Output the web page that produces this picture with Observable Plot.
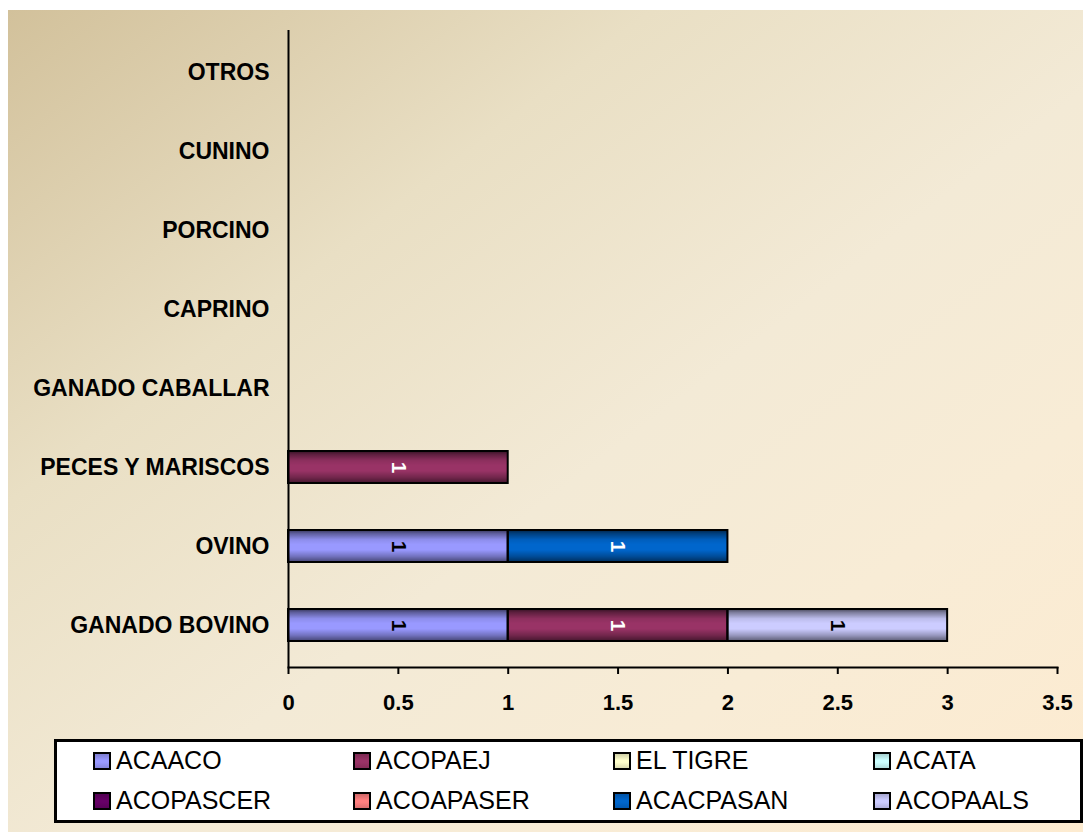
<!DOCTYPE html>
<html>
<head>
<meta charset="utf-8">
<script src="https://cdn.jsdelivr.net/npm/d3@7"></script>
<script src="https://cdn.jsdelivr.net/npm/@observablehq/plot@0.6"></script>
<style>
  html, body { margin: 0; padding: 0; background: #ffffff; }
  #chart {
    position: absolute;
    left: 8px;
    top: 10px;
    width: 1075px;
    height: 822px;
    background: linear-gradient(to bottom right, #d2c19b 0%, #e9dfc4 30%, #f3ead6 55%, #f8ecd6 75%, #fdebd0 100%);
    font-family: "Liberation Sans", Arial, sans-serif;
  }
  #legend {
    position: absolute;
    left: 46px;
    top: 729px;
    width: 1029px;
    height: 84px;
    box-sizing: border-box;
    border: 3px solid #000;
    background: #ffffff;
    display: grid;
    grid-template-columns: repeat(4, 260px);
    grid-auto-rows: 40px;
    padding-left: 36px;
    padding-top: 0;
  }
  #legend .item {
    display: flex;
    align-items: center;
    font-size: 25px;
    color: #000;
    margin-top: -3px;
  }
  #legend .swatch {
    width: 14px;
    height: 14px;
    border: 2px solid #000;
    margin-right: 5px;
    flex: none;
  }
</style>
</head>
<body>
<div id="chart"></div>
<script>
// Livestock categories, listed top to bottom
const categories = ["OTROS", "CUNINO", "PORCINO", "CAPRINO", "GANADO CABALLAR", "PECES Y MARISCOS", "OVINO", "GANADO BOVINO"];

// Associations (stack order) and their fill colours
const seriesNames = ["ACAACO", "ACOPAEJ", "EL TIGRE", "ACATA", "ACOPASCER", "ACOAPASER", "ACACPASAN", "ACOPAALS"];
const seriesColors = ["#9999ff", "#993366", "#ffffcc", "#ccffff", "#660066", "#ff8080", "#0066cc", "#ccccff"];

// Counts per category, in the same order as `categories`
const ACAACO    = [0, 0, 0, 0, 0, 0, 1, 1];
const ACOPAEJ   = [0, 0, 0, 0, 0, 1, 0, 1];
const EL_TIGRE  = [0, 0, 0, 0, 0, 0, 0, 0];
const ACATA     = [0, 0, 0, 0, 0, 0, 0, 0];
const ACOPASCER = [0, 0, 0, 0, 0, 0, 0, 0];
const ACOAPASER = [0, 0, 0, 0, 0, 0, 0, 0];
const ACACPASAN = [0, 0, 0, 0, 0, 0, 1, 0];
const ACOPAALS  = [0, 0, 0, 0, 0, 0, 0, 1];

const xTicks = [0, 0.5, 1, 1.5, 2, 2.5, 3, 3.5];

const seriesValues = [ACAACO, ACOPAEJ, EL_TIGRE, ACATA, ACOPASCER, ACOAPASER, ACACPASAN, ACOPAALS];

const rows = [];
seriesNames.forEach((s, i) => {
  categories.forEach((c, j) => {
    const v = seriesValues[i][j];
    if (v > 0) rows.push({series: s, category: c, value: v, dark: d3.hsl(seriesColors[i]).l < 0.5});
  });
});

const stack = extra => Plot.stackX({x: "value", y: "category", z: "series", ...extra});
const labelStyle = {rotate: 90, fontSize: 21, fontWeight: "bold"};

const svg = Plot.plot({
  width: 1075,
  height: 725,
  marginLeft: 280,
  marginRight: 26,
  marginTop: 20,
  marginBottom: 68,
  style: {
    background: "transparent",
    fontFamily: "'Liberation Sans', Arial, sans-serif",
    fontSize: "22px",
    overflow: "visible"
  },
  x: {domain: [0, 3.5], label: null},
  y: {domain: categories, paddingInner: 0.6, paddingOuter: 0.3, label: null},
  color: {domain: seriesNames, range: seriesColors},
  marks: [
    Plot.barX(rows, stack({fill: "series"})),
    Plot.barX(rows, stack({fill: "url(#barShade)", stroke: "#000", strokeWidth: 2})),
    // value labels: black on light segments, white on dark ones
    Plot.text(rows, stack({...labelStyle, text: d => d.dark ? null : String(d.value), fill: "#000"})),
    Plot.text(rows, stack({...labelStyle, text: d => d.dark ? String(d.value) : null, fill: "#fff"})),
    Plot.ruleX([0], {stroke: "#000", strokeWidth: 2}),
    Plot.frame({anchor: "bottom", stroke: "#000", strokeWidth: 2}),
    Plot.axisX({
      ticks: xTicks,
      tickSize: 7,
      tickPadding: 20,
      tickFormat: d3.format("~g"),
      strokeWidth: 2,
      fontSize: 22,
      fontWeight: "bold",
      label: null
    }),
    Plot.axisY({
      tickSize: 0,
      tickPadding: 19,
      fontSize: 23,
      fontWeight: "bold",
      label: null
    })
  ]
});

// Vertical shading that gives the bars their rounded, glossy look
const grad = d3.select(svg).insert("defs", ":first-child")
  .append("linearGradient")
  .attr("id", "barShade")
  .attr("x1", 0).attr("y1", 0).attr("x2", 0).attr("y2", 1);
[[0, 0.65], [0.1, 0.4], [0.3, 0.08], [0.45, 0], [0.62, 0], [0.82, 0.25], [1, 0.55]].forEach(([o, a]) => {
  grad.append("stop").attr("offset", o).attr("stop-color", "#000").attr("stop-opacity", a);
});

const chart = document.getElementById("chart");
chart.appendChild(svg);

// Legend box below the plot
const legend = document.createElement("div");
legend.id = "legend";
seriesNames.forEach((s, i) => {
  const item = document.createElement("div");
  item.className = "item";
  const sw = document.createElement("span");
  sw.className = "swatch";
  sw.style.background = `linear-gradient(to bottom, ${d3.color(seriesColors[i]).darker(0.6)} 0%, ${seriesColors[i]} 45%, ${seriesColors[i]} 60%, ${d3.color(seriesColors[i]).darker(0.4)} 100%)`;
  const label = document.createElement("span");
  label.textContent = s;
  item.appendChild(sw);
  item.appendChild(label);
  legend.appendChild(item);
});
chart.appendChild(legend);
</script>
</body>
</html>
